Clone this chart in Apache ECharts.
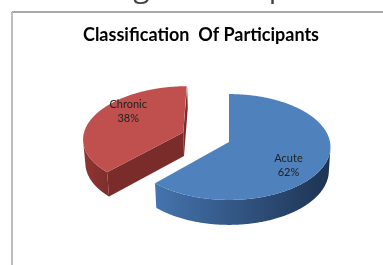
<!DOCTYPE html>
<html>
<head>
<meta charset="utf-8">
<script src="https://cdn.jsdelivr.net/npm/echarts@6/dist/echarts.min.js"></script>
<style>
  html, body { margin: 0; padding: 0; background: #ffffff; }
  #chart { width: 383px; height: 265px; }
</style>
</head>
<body>
<div id="chart"></div>
<script>
// ---- data ----
const categories = ['Acute', 'Chronic'];
const values = [62, 38];
const chartTitle = 'Classification  Of Participants';
const clippedHeading = 'Percentage of sample';

// ---- view settings (3D pie projection) ----
const explodedName = 'Chronic';
const view = { cx: 229, cy: 142, R: 101, H: 28, tilt: 31.3, dist: 915, explode: 50, labelFrac: 0.62, labelStretch: 1.9 };
const topColors = { Acute: '#4f81bd', Chronic: '#c0504d' };
const wallColors = {
  Acute: ['#4574ae', '#1d3352'],
  Chronic: ['#903533', '#7e2e2c']
};
const cutColors = { Acute: '#2e4f7a', Chronic: '#7a2c2a' };

const total = values.reduce((a, b) => a + b, 0);
const rad = Math.PI / 180;
const sa = Math.sin(view.tilt * rad), ca = Math.cos(view.tilt * rad);

function proj(X, Y, Z) {
  const u = Y * ca - Z * sa;
  const d = Y * sa + Z * ca;
  const s = view.dist / (view.dist - d);
  return [view.cx + X * s, view.cy - u * s];
}
const cam = [0, view.dist * sa, view.dist * ca];

function renderItem(params, api) {
  const i = params.dataIndex;
  const name = categories[i];
  let startVal = 0;
  for (let k = 0; k < i; k++) startVal += values[k];
  const a0 = startVal / total * 360;
  const a1 = (startVal + values[i]) / total * 360;
  const mid = (a0 + a1) / 2;
  const e = name === explodedName ? view.explode : 0;
  const ox = e * Math.sin(mid * rad), oz = -e * Math.cos(mid * rad);
  const R = view.R, H = view.H;
  const rim = (t, Y, f) => {
    const r = R * (f === undefined ? 1 : f);
    return [ox + r * Math.sin(t * rad), Y, oz - r * Math.cos(t * rad)];
  };
  const P = (p) => proj(p[0], p[1], p[2]);
  const base = name === explodedName ? 0 : 100;
  const children = [];

  // outer wall (only visible part)
  const vis = [];
  for (let t = a0; t <= a1 + 1e-6; t += 0.5) {
    const tt = Math.min(t, a1);
    const p = rim(tt, 0);
    const n = [Math.sin(tt * rad), 0, -Math.cos(tt * rad)];
    const dot = n[0] * (cam[0] - p[0]) + n[1] * (cam[1] - p[1]) + n[2] * (cam[2] - p[2]);
    if (dot > 0) vis.push(tt);
  }
  if (vis.length > 1) {
    const pts = [];
    vis.forEach(t => pts.push(P(rim(t, 0))));
    vis.slice().reverse().forEach(t => pts.push(P(rim(t, -H))));
    const xs = pts.map(p => p[0]);
    const wc = wallColors[name];
    children.push({
      type: 'polygon', z2: base + 1,
      shape: { points: pts },
      style: {
        fill: new echarts.graphic.LinearGradient(Math.min(...xs), 0, Math.max(...xs), 0,
          [{ offset: 0, color: wc[0] }, { offset: 1, color: wc[1] }], true),
        stroke: null
      }
    });
  }

  // radial cut faces
  [[a0, -1], [a1, 1]].forEach(([t, sgn]) => {
    const n = [sgn * Math.cos(t * rad), 0, sgn * Math.sin(t * rad)];
    const dot = n[0] * (cam[0] - ox) + n[1] * cam[1] + n[2] * (cam[2] - oz);
    if (dot <= 0) return;
    const pts = [P([ox, 0, oz]), P(rim(t, 0)), P(rim(t, -H)), P([ox, -H, oz])];
    children.push({
      type: 'polygon', z2: base + 2,
      shape: { points: pts },
      style: { fill: cutColors[name], stroke: null }
    });
  });

  // top face
  const top = [P([ox, 0, oz])];
  for (let t = a0; t <= a1 + 1e-6; t += 0.5) top.push(P(rim(Math.min(t, a1), 0)));
  children.push({
    type: 'polygon', z2: base + 3,
    shape: { points: top },
    style: { fill: topColors[name], stroke: null }
  });

  // label
  const apex = P([ox, 0, oz]);
  const lp = P(rim(mid, 0, view.labelFrac));
  const pct = Math.round(values[i] / total * 100) + '%';
  children.push({
    type: 'text', z2: base + 4,
    x: lp[0], y: apex[1] + (lp[1] - apex[1]) * view.labelStretch,
    style: {
      text: name + '\n' + pct,
      align: 'center', verticalAlign: 'middle',
      font: '11px Lato', lineHeight: 14, fill: '#222'
    }
  });

  return { type: 'group', children };
}

const chart = echarts.init(document.getElementById('chart'), null, { renderer: 'canvas' });
chart.setOption({
  backgroundColor: '#ffffff',
  animation: false,
  graphic: [
    { type: 'text', x: 9, y: -12, style: { text: clippedHeading, font: '30px "Open Sans"', fill: '#444', align: 'left', verticalAlign: 'middle' } },
    { type: 'line', shape: { x1: 12, y1: 12, x2: 383, y2: 12 }, style: { stroke: '#8c8c8c', lineWidth: 1.5 } },
    { type: 'line', shape: { x1: 12, y1: 12, x2: 12, y2: 265 }, style: { stroke: '#bdbdbd', lineWidth: 2 } },
    { type: 'text', x: 201, y: 35, style: { text: chartTitle, font: 'bold 18px Lato', fill: '#000', align: 'center', verticalAlign: 'middle' } }
  ],
  series: [{
    type: 'custom',
    coordinateSystem: 'none',
    data: values.map((v, i) => ({ name: categories[i], value: v })),
    renderItem: renderItem
  }]
});
</script>
</body>
</html>
